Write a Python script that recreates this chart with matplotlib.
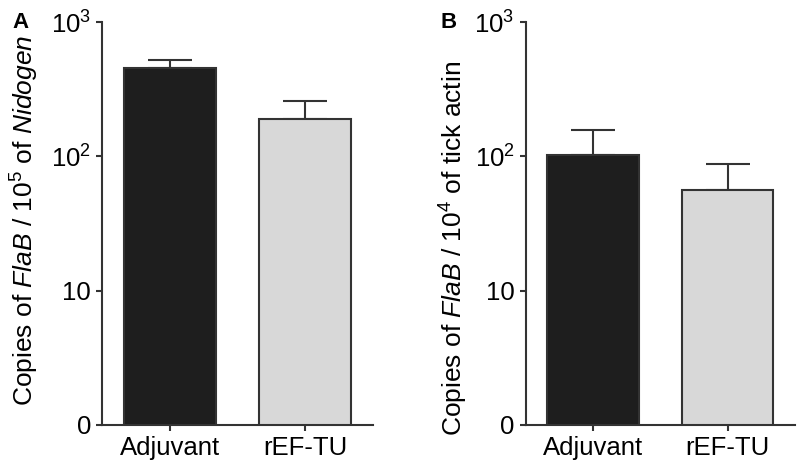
import matplotlib.pyplot as plt
import numpy as np

plt.rcParams['font.family'] = ['Liberation Sans', 'DejaVu Sans']
plt.rcParams['mathtext.fontset'] = 'custom'
plt.rcParams['mathtext.rm'] = 'Liberation Sans'
plt.rcParams['mathtext.it'] = 'Liberation Sans:italic'

groups = ['Adjuvant', 'rEF-TU']
bar_colors = ['#1e1e1e', '#d8d8d8']

# panel A: copies of FlaB per 10^5 Nidogen
a_mean = [455, 189]
a_err = [63, 68]
# panel B: copies of FlaB per 10^4 tick actin
b_mean = [103, 56.5]
b_err = [53, 31]

ytick_vals = [1, 10, 100, 1000]
ytick_labels = ['0', '10', r'$10^2$', r'$10^3$']

fig = plt.figure(figsize=(7.99, 4.68), dpi=100)
axA = fig.add_axes([0.1277, 0.0919, 0.339, 0.861])
axB = fig.add_axes([0.658, 0.0919, 0.337, 0.861])

panels = [
    (axA, a_mean, a_err, r'Copies of $\it{FlaB}$ / 10$^5$ of $\it{Nidogen}$', 'A', 12, -0.226, 0.507),
    (axB, b_mean, b_err, r'Copies of $\it{FlaB}$ / 10$^4$ of tick actin', 'B', 440, -0.208, 0.437),
]

x = np.arange(len(groups))
for ax, mean, err, ylab, tag, tagx, labx, laby in panels:
    ax.bar(x, mean, width=0.68, color=bar_colors, edgecolor='#333333', linewidth=1.5, zorder=2)
    ax.errorbar(x, mean, yerr=[np.zeros(len(mean)), err], fmt='none', ecolor='#333333',
                elinewidth=1.5, capsize=16, capthick=1.5, zorder=1)
    ax.set_yscale('log')
    ax.set_ylim(1, 1000)
    ax.set_xlim(-0.5, 1.5)
    ax.set_yticks(ytick_vals)
    ax.set_yticklabels(ytick_labels)
    ax.minorticks_off()
    ax.set_xticks(x)
    ax.set_xticklabels(groups)
    ax.tick_params(axis='both', labelsize=18.5, width=1.5, length=4, color='#333333', pad=4)
    ax.spines['top'].set_visible(False)
    ax.spines['right'].set_visible(False)
    for s in ['left', 'bottom']:
        ax.spines[s].set_linewidth(1.5)
        ax.spines[s].set_color('#333333')
    ax.set_ylabel(ylab, fontsize=19)
    ax.yaxis.set_label_coords(labx, laby)
    fig.text(tagx / 799, 1 - 22 / 468, tag, fontsize=16, fontweight='bold',
             ha='left', va='center')

fig.savefig('out.png', dpi=100)
